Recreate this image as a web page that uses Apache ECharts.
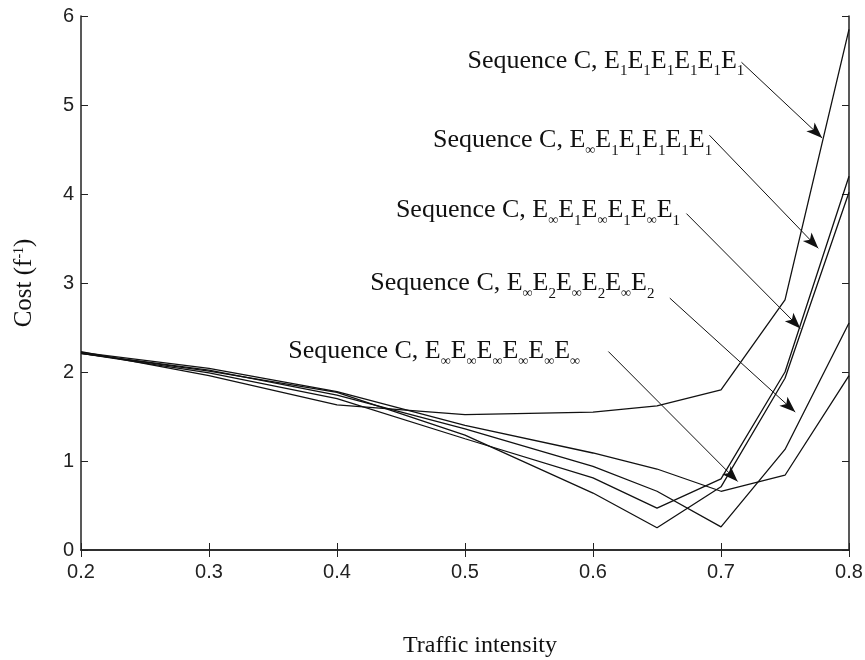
<!DOCTYPE html>
<html>
<head>
<meta charset="utf-8">
<script src="https://cdn.jsdelivr.net/npm/echarts@6/dist/echarts.min.js"></script>
<style>
  html, body { margin: 0; padding: 0; background: #fff; }
  #main { width: 865px; height: 660px; }
</style>
</head>
<body>
<div id="main"></div>
<script>
// traffic intensity (x)
var traffic = [0.2, 0.3, 0.4, 0.5, 0.6, 0.65, 0.7, 0.75, 0.8];
// cost per sequence
var costE1 = [2.23, 1.96, 1.63, 1.52, 1.55, 1.62, 1.80, 2.81, 5.85];
var costEinfE1 = [2.21, 1.99, 1.70, 1.25, 0.81, 0.47, 0.80, 2.00, 4.20];
var costEinfE1Alt = [2.21, 2.01, 1.77, 1.29, 0.64, 0.25, 0.71, 1.93, 4.02];
var costEinfE2 = [2.21, 2.02, 1.74, 1.36, 0.94, 0.66, 0.26, 1.13, 2.55];
var costEinf = [2.22, 2.04, 1.78, 1.40, 1.09, 0.91, 0.66, 0.84, 1.96];

var xTicks = { min: 0.2, max: 0.8, step: 0.1 };
var yTicks = { min: 0, max: 6, step: 1 };

// subscripts of the six stages for each label
var subs = [
  ['1', '1', '1', '1', '1', '1'],
  ['∞', '1', '1', '1', '1', '1'],
  ['∞', '1', '∞', '1', '∞', '1'],
  ['∞', '2', '∞', '2', '∞', '2'],
  ['∞', '∞', '∞', '∞', '∞', '∞']
];
// label anchor (left, middle) and arrows, in data units
var labelAt = [[0.502, 5.46], [0.475, 4.57], [0.446, 3.78], [0.426, 2.96], [0.362, 2.20]];
var arrowFrom = [[0.716, 5.48], [0.691, 4.66], [0.673, 3.78], [0.660, 2.83], [0.612, 2.23]];
var arrowTo = [[0.779, 4.63], [0.776, 3.39], [0.762, 2.49], [0.758, 1.55], [0.713, 0.77]];

var allCosts = [costE1, costEinfE1, costEinfE1Alt, costEinfE2, costEinf];

function labelText(s) {
  var t = '{m|Sequence C, }';
  s.forEach(function (c) {
    t += '{m|E}' + (c === '∞' ? '{inf|∞}' : '{s|' + c + '}');
  });
  return t;
}

var chart = echarts.init(document.getElementById('main'));

var series = allCosts.map(function (cost, i) {
  return {
    name: 'seq' + i,
    type: 'line',
    data: traffic.map(function (x, k) { return [x, cost[k]]; }),
    symbol: 'none',
    lineStyle: { color: '#111', width: 1.3 },
    animation: false,
    markPoint: {
      symbol: 'circle',
      symbolSize: 0,
      data: [{ coord: labelAt[i] }],
      label: {
        show: true,
        position: 'right',
        distance: 0,
        formatter: labelText(subs[i]),
        rich: {
          m: { fontFamily: 'Liberation Serif', fontSize: 26, color: '#111', lineHeight: 32, verticalAlign: 'top' },
          s: { fontFamily: 'Liberation Serif', fontSize: 15, color: '#111', verticalAlign: 'top', padding: [16, 0, 0, 0] },
          inf: { fontFamily: 'Liberation Serif', fontSize: 14, color: '#111', verticalAlign: 'top', padding: [16, 0, 0, 0] }
        }
      }
    },
    markLine: {
      silent: true,
      symbol: ['none', 'arrow'],
      symbolSize: [9, 16],
      lineStyle: { color: '#111', width: 1, type: 'solid' },
      label: { show: false },
      data: [[{ coord: arrowFrom[i] }, { coord: arrowTo[i] }]]
    }
  };
});

var tickLabel = { fontFamily: 'Liberation Sans', fontSize: 20, color: '#222' };

chart.setOption({
  backgroundColor: '#fff',
  animation: false,
  grid: { left: 81, right: 16, top: 16, bottom: 110, outerBoundsMode: 'none' },
  xAxis: [{
    type: 'value',
    min: xTicks.min, max: xTicks.max, interval: xTicks.step,
    name: 'Traffic intensity',
    nameLocation: 'middle',
    nameGap: 84,
    nameTextStyle: { fontFamily: 'Liberation Serif', fontSize: 24, color: '#111', padding: [0, 0, 0, 30] },
    axisLine: { lineStyle: { color: '#222', width: 1.5 } },
    axisTick: { inside: true, length: 7, lineStyle: { color: '#222' } },
    axisLabel: Object.assign({ margin: 12, formatter: function (v) { return v.toFixed(1); } }, tickLabel),
    splitLine: { show: false }
  }, {
    type: 'value', position: 'top',
    min: xTicks.min, max: xTicks.max, interval: xTicks.step,
    axisLine: { lineStyle: { color: '#222', width: 1.5 } },
    axisTick: { inside: true, length: 7, lineStyle: { color: '#222' } },
    axisLabel: { show: false },
    splitLine: { show: false }
  }],
  yAxis: [{
    type: 'value',
    min: yTicks.min, max: yTicks.max, interval: yTicks.step,
    name: 'Cost (f{sup|-1})',
    nameLocation: 'middle',
    nameGap: 44,
    nameRotate: 90,
    nameTextStyle: {
      fontFamily: 'Liberation Serif', fontSize: 25, color: '#111',
      rich: { sup: { fontFamily: 'Liberation Serif', fontSize: 14, color: '#111', verticalAlign: 'top', padding: [0, 0, 8, 0] } }
    },
    axisLine: { lineStyle: { color: '#222', width: 1.5 } },
    axisTick: { inside: true, length: 7, lineStyle: { color: '#222' } },
    axisLabel: Object.assign({ margin: 7 }, tickLabel),
    splitLine: { show: false }
  }, {
    type: 'value', position: 'right',
    min: yTicks.min, max: yTicks.max, interval: yTicks.step,
    axisLine: { lineStyle: { color: '#222', width: 1.5 } },
    axisTick: { inside: true, length: 7, lineStyle: { color: '#222' } },
    axisLabel: { show: false },
    splitLine: { show: false }
  }],
  series: series
});
</script>
</body>
</html>
